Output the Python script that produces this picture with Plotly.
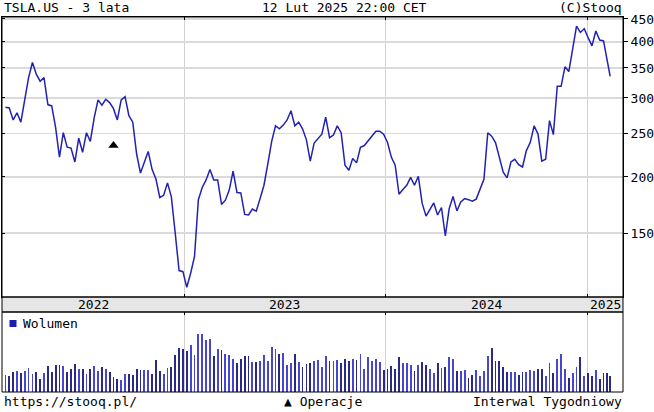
import math
import pandas as pd
import plotly.graph_objects as go

# ---------------- data ----------------
dates = list(pd.date_range("2022-02-11", periods=157, freq="7D")) + [pd.Timestamp("2025-02-12")]

close = [
    286, 285, 268, 278, 265, 300, 333, 360, 339, 327,
    333, 290, 288, 258, 221.5, 251, 233, 232, 216, 244,
    227, 251, 240, 271, 297, 289, 298, 293, 284, 268,
    297, 302, 274, 265, 225, 204, 216, 228, 208, 198,
    180, 182, 194, 180.6, 150, 123.7, 123, 113.5, 122, 133,
    178, 189.5, 197, 207.7, 197, 197, 173.7, 177.5, 187, 206,
    184.7, 184.3, 165, 164.5, 169.6, 167.8, 179, 191.7, 214, 240,
    260, 256, 261, 268, 281, 260, 265, 256, 242, 217,
    238, 243, 249, 272, 244.6, 248, 260, 251, 212.5, 207,
    220, 215, 233, 235, 241, 246, 253, 253, 249, 239,
    221.5, 212.5, 183, 187.5, 191.7, 199.5, 191.7, 200.7, 174.6, 163.6,
    169.3, 175, 164.5, 171, 147.7, 170, 181, 168, 176, 179,
    178, 176.6, 178.5, 187, 197.7, 251, 246.6, 238.6, 220, 205,
    199, 216, 219, 213, 210.5, 229, 238.6, 260, 249.6, 217,
    219, 267, 248.5, 318.5, 318.5, 352, 343.6, 385.5, 434, 420,
    428, 409, 392, 423, 404, 402, 361, 335,
]

volume_m = [
    289, 272, 340, 357, 323, 357, 408, 306, 340, 221,
    323, 442, 340, 459, 459, 442, 340, 391, 476, 391,
    391, 306, 391, 442, 357, 425, 391, 340, 255, 221,
    204, 306, 306, 289, 391, 374, 374, 374, 306, 544,
    357, 306, 408, 425, 629, 748, 731, 697, 799, 629,
    986, 986, 884, 901, 612, 731, 714, 646, 629, 561,
    493, 561, 612, 612, 510, 510, 527, 629, 527, 765,
    731, 646, 663, 459, 493, 646, 510, 425, 476, 493,
    527, 544, 425, 612, 527, 527, 544, 493, 561, 527,
    561, 544, 646, 391, 595, 527, 561, 510, 374, 391,
    442, 391, 595, 493, 493, 459, 357, 459, 510, 459,
    391, 323, 493, 408, 425, 595, 561, 357, 357, 374,
    238, 289, 374, 272, 357, 612, 748, 527, 527, 425,
    340, 340, 340, 289, 340, 340, 374, 357, 391, 391,
    272, 493, 323, 561, 646, 391, 238, 323, 425, 595,
    272, 323, 272, 374, 221, 323, 323, 272,
]

price_ticks = [150, 200, 250, 300, 350, 400, 450]
year_starts = ["2023-01-01", "2024-01-01", "2025-01-01"]
year_labels = ["2022", "2023", "2024", "2025"]
operation_dates = ["2022-08-26"]
operation_levels = [235]

# ---------------- layout geometry ----------------
W, H = 654, 412
ML, MR, MT, MB = 2, 31, 17, 20
PW, PH = W - ML - MR, H - MT - MB


def py(pix):
    return (H - MB - pix) / PH


def px(pix):
    return (pix - ML) / PW


x_range = [pd.Timestamp("2022-02-04 19:00"), pd.Timestamp("2025-03-07 07:00")]
price_range = [math.log10(108), math.log10(454.6)]
vol_range = [0, 1360]

FONT = "DejaVu Sans Mono"
LINE_BLUE = "#2222b2"
UP_BLUE = "#4646d2"
DOWN_BLUE = "#2a2a86"

vol_colors = []
for i in range(len(close)):
    if i == 0 or close[i] >= close[i - 1]:
        vol_colors.append(UP_BLUE)
    else:
        vol_colors.append(DOWN_BLUE)

fig = go.Figure()

fig.add_trace(go.Scatter(
    x=dates, y=close, mode="lines",
    line=dict(color=LINE_BLUE, width=1.5),
    xaxis="x", yaxis="y", hoverinfo="skip",
))
fig.add_trace(go.Scatter(
    x=operation_dates, y=operation_levels, mode="markers",
    marker=dict(symbol="triangle-up", size=9, color="black"),
    xaxis="x", yaxis="y3", hoverinfo="skip",
))
fig.add_trace(go.Bar(
    x=dates, y=volume_m, marker=dict(color=vol_colors, line=dict(width=0)),
    width=3.3 * 86400000, xaxis="x2", yaxis="y2", hoverinfo="skip",
))

# year label positions: middle of the visible part of each year
bounds = [x_range[0]] + [pd.Timestamp(d) for d in year_starts] + [x_range[1]]
annotations = []
for i, lab in enumerate(year_labels):
    mid = bounds[i] + (bounds[i + 1] - bounds[i]) / 2
    annotations.append(dict(
        x=mid, y=py(304.5), xref="x", yref="paper", text=lab, showarrow=False,
        font=dict(family=FONT, size=13, color="black"), xanchor="center", yanchor="middle",
    ))

txt = dict(family=FONT, size=13, color="black")
annotations += [
    dict(x=px(2), y=py(8), xref="paper", yref="paper", text="TSLA.US - 3 lata",
         showarrow=False, xanchor="left", yanchor="middle", font=txt),
    dict(x=px(344), y=py(8), xref="paper", yref="paper", text="12 Lut 2025 22:00 CET",
         showarrow=False, xanchor="center", yanchor="middle", font=txt),
    dict(x=px(624), y=py(8), xref="paper", yref="paper", text="(C)Stooq",
         showarrow=False, xanchor="right", yanchor="middle", font=txt),
    dict(x=px(2), y=py(401), xref="paper", yref="paper", text="https://stooq.pl/",
         showarrow=False, xanchor="left", yanchor="middle", font=txt),
    dict(x=px(282), y=py(401), xref="paper", yref="paper", text="▲ Operacje",
         showarrow=False, xanchor="left", yanchor="middle", font=txt),
    dict(x=px(624), y=py(401), xref="paper", yref="paper", text="Interwal Tygodniowy",
         showarrow=False, xanchor="right", yanchor="middle", font=txt),
    dict(x=px(20.5), y=py(323.5), xref="paper", yref="paper", text="Wolumen",
         showarrow=False, xanchor="left", yanchor="middle", font=txt),
]

shapes = [
    # year bar
    dict(type="rect", xref="paper", yref="paper", x0=0, x1=1, y0=py(312), y1=py(297),
         fillcolor="#e6e6e6", line=dict(color="black", width=1), layer="above"),
    # price frame
    dict(type="rect", xref="paper", yref="paper", x0=0, x1=1, y0=py(297), y1=1,
         line=dict(color="black", width=1), layer="above"),
    # volume frame
    dict(type="rect", xref="paper", yref="paper", x0=0, x1=1, y0=0, y1=py(312),
         line=dict(color="black", width=1), layer="above"),
    # legend square for volume
    dict(type="rect", xref="paper", yref="paper", x0=px(9.5), x1=px(16.5),
         y0=py(327), y1=py(320), fillcolor="#1c1cb0", line=dict(width=0), layer="above"),
]

fig.update_layout(
    width=W, height=H,
    margin=dict(l=ML, r=MR, t=MT, b=MB, autoexpand=False),
    paper_bgcolor="white", plot_bgcolor="white",
    showlegend=False, bargap=0,
    font=dict(family=FONT, size=13, color="black"),
    xaxis=dict(
        domain=[0, 1], anchor="y", type="date", range=x_range,
        tickvals=year_starts, showticklabels=False,
        ticks="inside", ticklen=3, tickcolor="black", tickwidth=1,
        showgrid=True, gridcolor="#d2d2d2", gridwidth=1,
        showline=True, linecolor="black", linewidth=1, mirror="ticks",
        zeroline=False, fixedrange=True,
    ),
    yaxis=dict(
        domain=[py(297), 1], anchor="x", type="log", range=price_range,
        side="right", tickvals=price_ticks, ticktext=[str(t) for t in price_ticks],
        ticks="outside", ticklen=4, tickcolor="black", tickwidth=1,
        tickfont=dict(family=FONT, size=13, color="black"),
        showgrid=True, gridcolor="#dadada", gridwidth=1.5,
        showline=True, linecolor="black", linewidth=1,
        zeroline=False, fixedrange=True,
    ),
    yaxis3=dict(
        overlaying="y", anchor="x", side="left", type="log", range=price_range,
        tickvals=price_ticks, showticklabels=False,
        ticks="inside", ticklen=3, tickcolor="black", tickwidth=1,
        showgrid=False, showline=True, linecolor="black", linewidth=1,
        zeroline=False, fixedrange=True,
    ),
    xaxis2=dict(
        domain=[0, 1], anchor="y2", type="date", range=x_range, matches="x",
        side="top", tickvals=year_starts, showticklabels=False,
        ticks="inside", ticklen=3, tickcolor="black", tickwidth=1,
        showgrid=True, gridcolor="#d2d2d2", gridwidth=1,
        showline=False, zeroline=False, fixedrange=True,
    ),
    yaxis2=dict(
        domain=[0, py(312)], anchor="x2", range=vol_range,
        showticklabels=False, ticks="", showgrid=False,
        showline=False, zeroline=False, fixedrange=True,
    ),
    annotations=annotations,
    shapes=shapes,
)

fig.write_html(
    "out.html",
    config={"displayModeBar": False, "staticPlot": True},
    post_script="document.body.style.margin='0px';document.body.style.padding='0px';",
)
